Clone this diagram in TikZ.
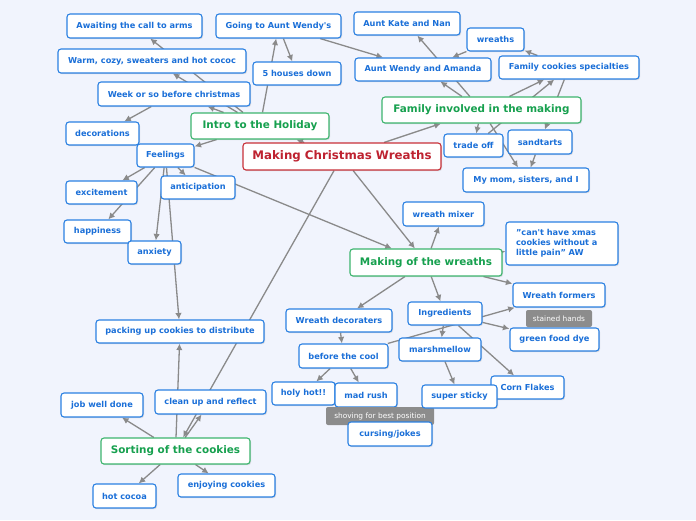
\documentclass[tikz,border=0pt]{standalone}
\usepackage{fontspec}
\setmainfont{DejaVu Sans}
\usetikzlibrary{arrows.meta,shadows,backgrounds}
\definecolor{bgc}{HTML}{F1F4FD}
\definecolor{tblue}{HTML}{1A6FD8}
\definecolor{bblue}{HTML}{2A80E2}
\definecolor{tgreen}{HTML}{16A04E}
\definecolor{bgreen}{HTML}{3DB56E}
\definecolor{tred}{HTML}{BE2230}
\definecolor{bred}{HTML}{C83038}
\definecolor{lgray}{HTML}{8A8A8A}
\definecolor{labgray}{HTML}{8C8C8C}
\tikzset{
 base/.style={rounded corners=3pt, fill=white, line width=1.1pt, inner sep=0pt, align=center,
   font=\bfseries\fontsize{8.2}{9.6}\selectfont,
   drop shadow={shadow xshift=1pt, shadow yshift=-1.2pt, opacity=0.25}},
 topic/.style={base, draw=bblue, text=tblue},
 mainbox/.style={base, draw=bgreen, text=tgreen, font=\bfseries\fontsize{10.4}{12}\selectfont},
 rootbox/.style={base, draw=bred, text=tred, font=\bfseries\fontsize{11.8}{13}\selectfont},
 lab/.style={rounded corners=2pt, fill=labgray, text=white, inner sep=0pt, font=\fontsize{7.4}{8.5}\selectfont},
 conn/.style={draw=lgray, line width=1.3pt, -{Latex[length=6.5pt,width=6.5pt]}},
 sz/.style 2 args={minimum width=#1pt, minimum height=#2pt},
}
\begin{document}
\begin{tikzpicture}[x=1pt,y=-1pt]
\useasboundingbox (0,0) rectangle (696,520);
% nodes
\node[topic,sz={135}{24}] (aw) at (134.5,26) {Awaiting the call to arms};
\node[topic,sz={125}{24}] (gw) at (278.5,26) {Going to Aunt Wendy\textquotesingle s};
\node[topic,sz={188}{24}] (wc) at (152,61) {Warm, cozy, sweaters and hot cococ};
\node[topic,sz={88}{23}] (fh) at (297,73.5) {5 houses down};
\node[topic,sz={152}{24}] (wk) at (174,94) {Week or so before christmas};
\node[mainbox,sz={138}{26}] (intro) at (260,126) {Intro to the Holiday};
\node[topic,sz={73}{23}] (dec) at (102.5,133.5) {decorations};
\node[topic,sz={57}{23}] (feel) at (165.5,155.5) {Feelings};
\node[rootbox,sz={198}{27}] (root) at (342,156.5) {Making Christmas Wreaths};
\node[topic,sz={71}{23}] (exc) at (101.5,192.5) {excitement};
\node[topic,sz={74}{23}] (ant) at (198,187.5) {anticipation};
\node[topic,sz={67}{23}] (hap) at (97.5,231.5) {happiness};
\node[topic,sz={53}{23}] (anx) at (154.5,252.5) {anxiety};
\node[topic,sz={168}{23}] (pack) at (180,331.5) {packing up cookies to distribute};
\node[topic,sz={106}{23}] (kate) at (407,23.5) {Aunt Kate and Nan};
\node[topic,sz={57}{23}] (wr) at (495.5,39.5) {wreaths};
\node[topic,sz={136}{23}] (awa) at (423,69.5) {Aunt Wendy and Amanda};
\node[topic,sz={140}{23}] (fcs) at (569,67.5) {Family cookies specialties};
\node[mainbox,sz={199}{26}] (fam) at (481.5,110) {Family involved in the making};
\node[topic,sz={59}{23}] (trade) at (473.5,145.5) {trade off};
\node[topic,sz={64}{24}] (sand) at (540,142) {sandtarts};
\node[topic,sz={126}{24}] (mom) at (526,180) {My mom, sisters, and I};
\node[topic,sz={81}{24}] (mix) at (443.5,214) {wreath mixer};
\node[topic,minimum height=43pt,text width=92pt,inner xsep=10pt,align=left,font=\bfseries\fontsize{8.2}{9.8}\selectfont] (quote) at (562,243.5) {"can\textquotesingle t have xmas\\cookies without a\\little pain" AW};
\node[mainbox,sz={152}{27}] (mow) at (426,262.5) {Making of the wreaths};
\node[topic,sz={92}{24}] (wf) at (559,295) {Wreath formers};
\node[topic,sz={89}{23}] (dye) at (554.5,339.5) {green food dye};
\node[lab,sz={66}{17}] (stained) at (559,318.5) {stained hands};
\node[topic,sz={74}{23}] (ing) at (445,313.5) {Ingredients};
\node[topic,sz={106}{23}] (wd) at (339,320.5) {Wreath decoraters};
\node[topic,sz={89}{24}] (btc) at (343.5,356) {before the cool};
\node[topic,sz={82}{23}] (marsh) at (440,349.5) {marshmellow};
\node[topic,sz={63}{23}] (hh) at (303.5,393.5) {holy hot!!};
\node[topic,sz={62}{24}] (mad) at (366,395) {mad rush};
\node[lab,sz={108}{18}] (shov) at (380,416) {shoving for best position};
\node[topic,sz={84}{24}] (curse) at (390,434) {cursing/jokes};
\node[topic,sz={73}{23}] (corn) at (527.5,387.5) {Corn Flakes};
\node[topic,sz={75}{23}] (sticky) at (459.5,396.5) {super sticky};
\node[mainbox,sz={149}{26}] (sort) at (175.5,451) {Sorting of the cookies};
\node[topic,sz={82}{24}] (job) at (102,405) {job well done};
\node[topic,sz={111}{24}] (clean) at (210.5,402) {clean up and reflect};
\node[topic,sz={63}{24}] (cocoa) at (124.5,496) {hot cocoa};
\node[topic,sz={97}{23}] (enjoy) at (226.5,485.5) {enjoying cookies};
% connectors
\begin{pgfonlayer}{background}
\fill[bgc] (0,0) rectangle (696,520);
\draw[conn] (intro) -- (aw);
\draw[conn] (intro) -- (wc);
\draw[conn] (intro) -- (wk);
\draw[conn] (intro) -- (feel);
\draw[conn] (intro) -- (gw);
\draw[conn] (gw) -- (fh);
\draw[conn] (gw) -- (awa);
\draw[conn] (wk) -- (dec);
\draw[conn] (root) -- (intro);
\draw[conn] (root) -- (fam);
\draw[conn] (root) -- (mow);
\draw[conn] (root) -- (sort);
\draw[conn] (fam) -- (kate);
\draw[conn] (fam) -- (awa);
\draw[conn] (wr) -- (awa);
\draw[conn] (fcs) -- (wr);
\draw[conn] (fam) -- (fcs);
\draw[conn] (trade) -- (fcs);
\draw[conn] (fcs) -- (sand);
\draw[conn] (fam) -- (trade);
\draw[conn] (fam) -- (mom);
\draw[conn] (sand) -- (mom);
\draw[conn] (feel) -- (exc);
\draw[conn] (feel) -- (hap);
\draw[conn] (feel) -- (ant);
\draw[conn] (feel) -- (anx);
\draw[conn] (feel) -- (pack);
\draw[conn] (feel) -- (mow);
\draw[conn] (mow) -- (mix);
\draw[conn] (mow) -- (quote);
\draw[conn] (mow) -- (wf);
\draw[conn] (mow) -- (ing);
\draw[conn] (mow) -- (wd);
\draw[conn] (btc) -- (wf);
\draw[conn] (ing) -- (dye);
\draw[conn] (ing) -- (marsh);
\draw[conn] (ing) -- (corn);
\draw[conn] (marsh) -- (sticky);
\draw[conn] (wd) -- (btc);
\draw[conn] (btc) -- (hh);
\draw[conn] (btc) -- (mad);
\draw[conn] (sort) -- (pack);
\draw[conn] (sort) -- (job);
\draw[conn] (sort) -- (cocoa);
\draw[conn] (sort) -- (enjoy);
\draw[conn] (sort) -- (clean);
\end{pgfonlayer}
\end{tikzpicture}
\end{document}
